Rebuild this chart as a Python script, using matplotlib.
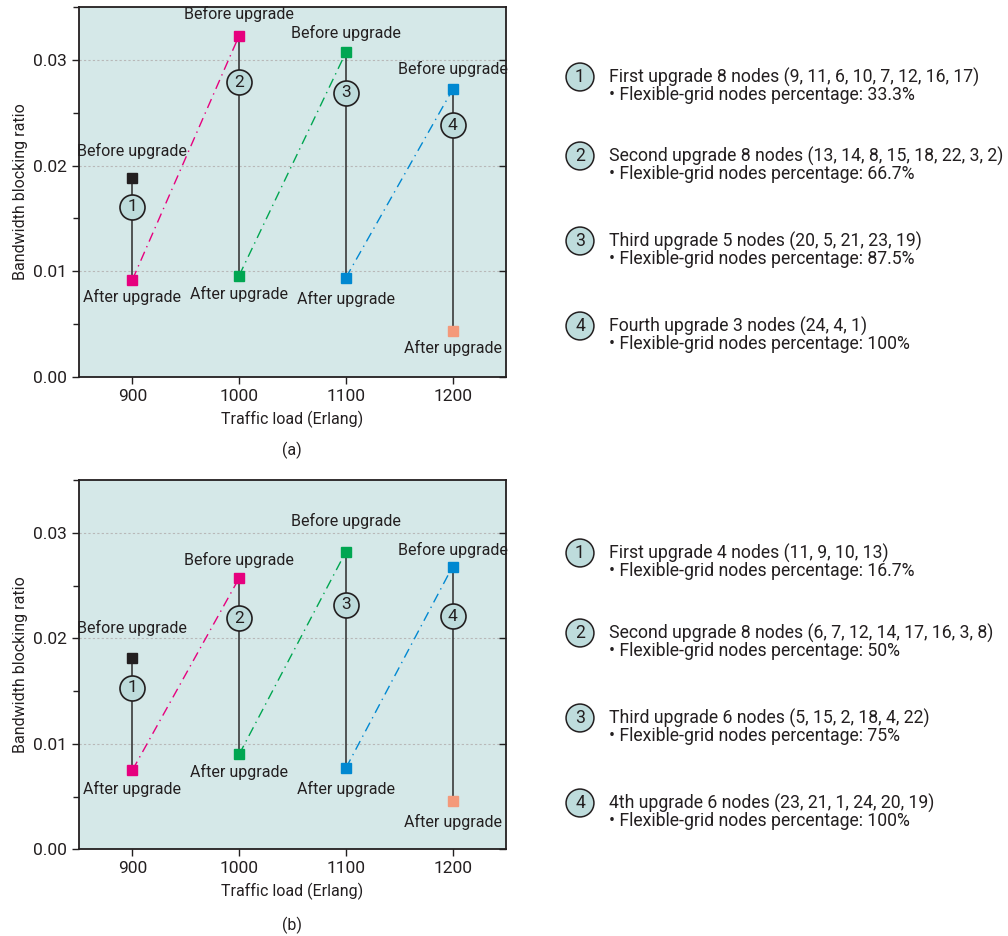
import numpy as np
import matplotlib.pyplot as plt
from matplotlib.ticker import MultipleLocator, FormatStrFormatter

plt.rcParams["font.family"] = ["Roboto", "DejaVu Sans"]

# =============================================================================
# Data
# =============================================================================

loads = [900, 1000, 1100, 1200]

# panel (a)
before_a = [0.0188, 0.0323, 0.0307, 0.0272]
after_a = [0.0092, 0.0096, 0.0094, 0.0044]
circle_y_a = [0.0161, 0.0279, 0.0269, 0.0238]
before_lbl_a = [0.0214, 0.0343, 0.0325, 0.0291]
after_lbl_a = [0.0076, 0.0079, 0.0074, 0.0027]

# panel (b)
before_b = [0.0181, 0.0257, 0.0282, 0.0268]
after_b = [0.0075, 0.0090, 0.0077, 0.0046]
circle_y_b = [0.0153, 0.0219, 0.0232, 0.0221]
before_lbl_b = [0.0210, 0.0274, 0.0311, 0.0284]
after_lbl_b = [0.0057, 0.0073, 0.0057, 0.0026]

legend_a = [
    ("First upgrade 8 nodes (9, 11, 6, 10, 7, 12, 16, 17)", "33.3%"),
    ("Second upgrade 8 nodes (13, 14, 8, 15, 18, 22, 3, 2)", "66.7%"),
    ("Third upgrade 5 nodes (20, 5, 21, 23, 19)", "87.5%"),
    ("Fourth upgrade 3 nodes (24, 4, 1)", "100%"),
]
legend_b = [
    ("First upgrade 4 nodes (11, 9, 10, 13)", "16.7%"),
    ("Second upgrade 8 nodes (6, 7, 12, 14, 17, 16, 3, 8)", "50%"),
    ("Third upgrade 6 nodes (5, 15, 2, 18, 4, 22)", "75%"),
    ("4th upgrade 6 nodes (23, 21, 1, 24, 20, 19)", "100%"),
]

# =============================================================================
# Style
# =============================================================================

TXT = "#231f20"
BG = "#d5e8e8"
CIRCLE_FC = "#bedcdc"
before_colors = ["#231f20", "#e6007e", "#00a651", "#0088d1"]
after_colors = ["#e6007e", "#00a651", "#0088d1", "#f4997a"]
FS_TICK = 12.5
FS_LBL = 11.5
FS_ANN = 11.5
FS_LEG = 12.7


def draw_panel(ax, before, after, circle_y, before_lbl, after_lbl):
    ax.set_facecolor(BG)

    # transitions between consecutive upgrades
    for i in range(len(loads) - 1):
        ax.plot([loads[i], loads[i + 1]], [after[i], before[i + 1]],
                linestyle=(0, (7, 3.5, 1, 3.5)), linewidth=1.0,
                color=after_colors[i], zorder=2)

    for i, x in enumerate(loads):
        ax.plot([x, x], [before[i], after[i]], color="#3a3a3a",
                linewidth=1.2, zorder=3)
        ax.plot(x, before[i], marker="s", markersize=7.5, linestyle="None",
                color=before_colors[i], zorder=5)
        ax.plot(x, after[i], marker="s", markersize=7.5, linestyle="None",
                color=after_colors[i], zorder=5)
        ax.plot(x, circle_y[i], marker="o", markersize=18, linestyle="None",
                markerfacecolor=CIRCLE_FC, markeredgecolor=TXT,
                markeredgewidth=1.2, zorder=6)
        ax.text(x, circle_y[i], str(i + 1), ha="center", va="center",
                fontsize=FS_TICK, color=TXT, zorder=7)
        ax.text(x, before_lbl[i], "Before upgrade", ha="center",
                va="center", fontsize=FS_ANN, color=TXT, zorder=7)
        ax.text(x, after_lbl[i], "After upgrade", ha="center",
                va="center", fontsize=FS_ANN, color=TXT, zorder=7)

    ax.set_xlim(850, 1250)
    ax.set_ylim(0, 0.035)
    ax.set_xticks(loads)
    ax.yaxis.set_major_locator(MultipleLocator(0.01))
    ax.yaxis.set_minor_locator(MultipleLocator(0.005))
    ax.yaxis.set_major_formatter(FormatStrFormatter("%.2f"))
    ax.tick_params(axis="both", which="major", labelsize=FS_TICK,
                   colors=TXT, length=5, width=1.0, direction="out")
    ax.tick_params(axis="y", which="major", right=True)
    ax.tick_params(axis="y", which="minor", length=4, width=1.0,
                   colors=TXT)
    ax.grid(axis="y", which="major", linestyle=(0, (2, 2)),
            linewidth=0.8, color="#b8b8b8")
    ax.set_axisbelow(True)
    for side in ["left", "bottom", "top", "right"]:
        ax.spines[side].set_color(TXT)
        ax.spines[side].set_linewidth(1.3)
    ax.set_xlabel("Traffic load (Erlang)", fontsize=FS_LBL, color=TXT,
                  labelpad=5)
    ax.set_ylabel("Bandwidth blocking ratio", fontsize=FS_LBL, color=TXT,
                  labelpad=4)
    # right-side ticks point inward
    for t in ax.yaxis.get_major_ticks():
        t.tick2line.set_marker(0)


def draw_legend(fig, items, y_tops):
    for i, (line1, pct) in enumerate(items):
        y = 1 - y_tops[i] / 936
        fig.text(580 / 1008, y, str(i + 1), ha="center", va="center",
                 fontsize=FS_LEG, color=TXT,
                 bbox=dict(boxstyle="circle,pad=0.28", fc=CIRCLE_FC,
                           ec=TXT, lw=1.1))
        fig.text(609 / 1008, y, line1, ha="left", va="center",
                 fontsize=FS_LEG, color=TXT)
        fig.text(609 / 1008, y - 18 / 936,
                 "\u2022 Flexible-grid nodes percentage: " + pct,
                 ha="left", va="center", fontsize=FS_LEG, color=TXT)


# =============================================================================
# Figure
# =============================================================================

fig = plt.figure(figsize=(10.08, 9.36), dpi=100)

ax_a = fig.add_axes([0.0784, 0.5972, 0.4236, 0.3953])
ax_b = fig.add_axes([0.0784, 0.0926, 0.4236, 0.3946])

draw_panel(ax_a, before_a, after_a, circle_y_a, before_lbl_a, after_lbl_a)
draw_panel(ax_b, before_b, after_b, circle_y_b, before_lbl_b, after_lbl_b)

fig.text(0.2897, 1 - 450 / 936, "(a)", ha="center", va="center",
         fontsize=FS_LBL, color=TXT)
fig.text(0.2897, 1 - 925 / 936, "(b)", ha="center", va="center",
         fontsize=FS_LBL, color=TXT)

draw_legend(fig, legend_a, [77, 156, 241, 326])
draw_legend(fig, legend_b, [553, 633, 718, 803])

plt.savefig("out.png", dpi=100)
